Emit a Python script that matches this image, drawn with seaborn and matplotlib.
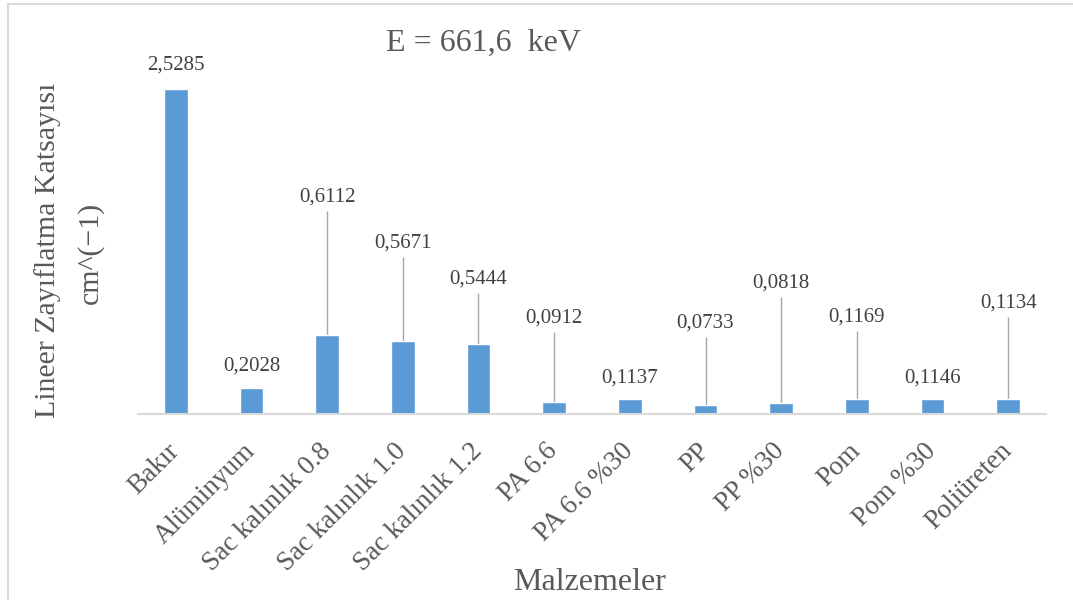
import matplotlib
matplotlib.use("Agg")
import matplotlib.pyplot as plt
import seaborn as sns
import pandas as pd

# Linear attenuation coefficients at 661.6 keV
materials = ["Bakır", "Alüminyum", "Sac kalınlık 0.8", "Sac kalınlık 1.0",
             "Sac kalınlık 1.2", "PA 6.6", "PA 6.6 %30", "PP", "PP %30",
             "Pom", "Pom %30", "Poliüreten"]
coefficients = [2.5285, 0.2028, 0.6112, 0.5671, 0.5444, 0.0912,
                0.1137, 0.0733, 0.0818, 0.1169, 0.1146, 0.1134]
value_labels = ["2,5285", "0,2028", "0,6112", "0,5671", "0,5444", "0,0912",
                "0,1137", "0,0733", "0,0818", "0,1169", "0,1146", "0,1134"]

# Heights (data units) at which the value labels sit
label_heights = [2.716, 0.374, 1.691, 1.328, 1.048, 0.745,
                 0.278, 0.706, 1.022, 0.753, 0.278, 0.861]

df = pd.DataFrame({"Malzeme": materials, "Katsayi": coefficients})

sns.set_theme(style="white")
plt.rcParams["font.family"] = ["Liberation Serif", "DejaVu Serif"]

W, H = 1073, 600
fig = plt.figure(figsize=(W / 100, H / 100), dpi=100)
ax = fig.add_axes([138 / W, 1 - 414 / H, (1046 - 138) / W, (414 - 28.5) / H])

bar_color = "#5B9BD5"
sns.barplot(data=df, x="Malzeme", y="Katsayi", color=bar_color,
            saturation=1, width=0.31, ax=ax, zorder=3)

ax.set_ylim(0, 3.0)
ax.set_xlim(-0.5, len(materials) - 0.5)
ax.set_yticks([])
ax.set_xlabel("")
ax.set_ylabel("")
for side in ["top", "left", "right"]:
    ax.spines[side].set_visible(False)
ax.spines["bottom"].set_color("#D9D9D9")
ax.spines["bottom"].set_linewidth(1.5)
ax.spines["bottom"].set_zorder(4)

ax.tick_params(axis="x", length=0, pad=24, labelsize=19.5, labelcolor="#595959")
for lbl in ax.get_xticklabels():
    lbl.set_rotation(45)
    lbl.set_ha("right")
    lbl.set_va("center")
    lbl.set_rotation_mode("anchor")

# Value labels with leader lines where the label is moved away from the bar
px_per_unit = (414 - 28.5) / 3.0
gap = 14 / px_per_unit
for i, (v, txt, ly) in enumerate(zip(coefficients, value_labels, label_heights)):
    ax.text(i, ly, txt, ha="center", va="center", fontsize=15,
            color="#404040", zorder=5)
    line_top = ly - gap
    if line_top - v > 0.12:
        ax.plot([i, i], [v, line_top], color="#A6A6A6", lw=1.0,
                solid_capstyle="butt", zorder=2)

fig.text(484 / W, 1 - 43 / H, "E = 661,6  keV", ha="center", va="center",
         fontsize=23, color="#595959")
fig.text(590 / W, 1 - 583 / H, "Malzemeler", ha="center", va="center",
         fontsize=23, color="#595959")
fig.text(48 / W, 1 - 250 / H, "Lineer Zayıflatma Katsayısı", rotation=90,
         ha="center", va="center", fontsize=21.5, color="#595959")
fig.text(90 / W, 1 - 253 / H, "cm^(−1)", rotation=90,
         ha="center", va="center", fontsize=21.5, color="#595959")

# Chart-area frame
frame = plt.Rectangle((7.5 / W, -0.05), 1.2, 1 - 3.5 / H + 0.05,
                      transform=fig.transFigure, fill=False,
                      edgecolor="#D9D9D9", lw=1.5, zorder=0)
fig.patches.append(frame)

fig.savefig("out.png", dpi=100)
